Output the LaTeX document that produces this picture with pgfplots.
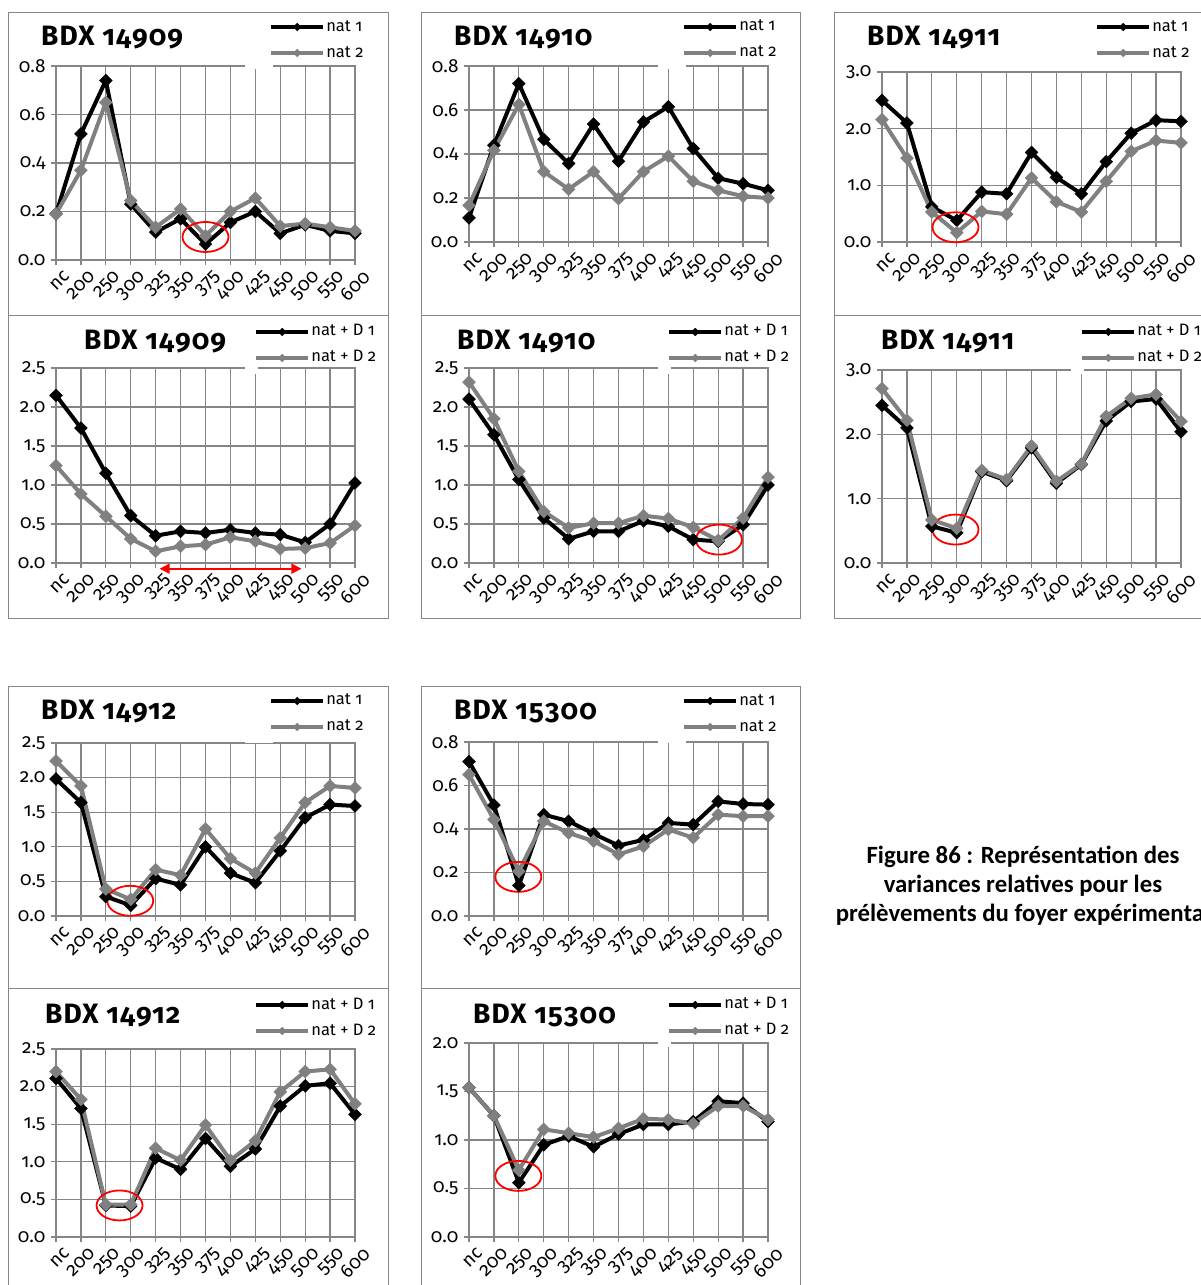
\documentclass[border=0pt]{standalone}
\usepackage{fontspec}
\setmainfont{Fira Sans}[Numbers=OldStyle]
\newfontfamily\capfont{Carlito}
\usepackage{pgfplots}
\usepackage{pgfplotstable}
\pgfplotsset{compat=1.18}
\usetikzlibrary{arrows.meta}
\definecolor{gridc}{RGB}{134,134,134}
\definecolor{ser2}{RGB}{128,128,128}
\definecolor{framec}{RGB}{134,134,134}
\newcommand\tickfont{\fontsize{19bp}{21bp}\selectfont}
\newcommand\legfont{\fontsize{16.5bp}{18bp}\selectfont}
\newcommand\titfont{\fontsize{28bp}{32bp}\selectfont\bfseries\addfontfeatures{LetterSpace=4}}

% columns: x, series 1 (black), series 2 (gray)
\pgfplotstableread{
x a b
0 0.19 0.19
1 0.52 0.37
2 0.74 0.65
3 0.23 0.245
4 0.115 0.135
5 0.17 0.21
6 0.065 0.10
7 0.155 0.20
8 0.20 0.255
9 0.11 0.14
10 0.145 0.15
11 0.12 0.135
12 0.11 0.12
}\tPone
\pgfplotstableread{
x a b
0 0.11 0.167
1 0.44 0.417
2 0.72 0.625
3 0.466 0.32
4 0.357 0.24
5 0.536 0.32
6 0.367 0.197
7 0.546 0.32
8 0.615 0.39
9 0.425 0.276
10 0.29 0.235
11 0.265 0.208
12 0.235 0.20
}\tPtwo
\pgfplotstableread{
x a b
0 2.5 2.16
1 2.1 1.48
2 0.62 0.53
3 0.38 0.165
4 0.88 0.54
5 0.85 0.49
6 1.58 1.13
7 1.14 0.71
8 0.85 0.53
9 1.42 1.07
10 1.92 1.6
11 2.15 1.79
12 2.13 1.75
}\tPthree
\pgfplotstableread{
x a b
0 2.15 1.25
1 1.73 0.885
2 1.15 0.60
3 0.607 0.31
4 0.35 0.15
5 0.406 0.214
6 0.385 0.235
7 0.427 0.33
8 0.385 0.278
9 0.363 0.18
10 0.265 0.19
11 0.50 0.256
12 1.026 0.48
}\tPfour
\pgfplotstableread{
x a b
0 2.1 2.32
1 1.645 1.85
2 1.07 1.175
3 0.577 0.66
4 0.31 0.45
5 0.406 0.51
6 0.406 0.51
7 0.54 0.607
8 0.47 0.57
9 0.30 0.457
10 0.278 0.29
11 0.49 0.577
12 1.0 1.1
}\tPfive
\pgfplotstableread{
x a b
0 2.45 2.71
1 2.1 2.22
2 0.57 0.67
3 0.47 0.54
4 1.42 1.44
5 1.28 1.30
6 1.79 1.82
7 1.24 1.27
8 1.53 1.54
9 2.21 2.28
10 2.51 2.56
11 2.55 2.62
12 2.04 2.2
}\tPsix
\pgfplotstableread{
x a b
0 1.98 2.24
1 1.64 1.88
2 0.28 0.39
3 0.154 0.24
4 0.54 0.67
5 0.45 0.59
6 1.0 1.26
7 0.62 0.83
8 0.48 0.62
9 0.94 1.13
10 1.42 1.64
11 1.61 1.88
12 1.59 1.85
}\tPseven
\pgfplotstableread{
x a b
0 0.71 0.65
1 0.51 0.443
2 0.14 0.206
3 0.466 0.436
4 0.436 0.382
5 0.378 0.344
6 0.324 0.283
7 0.35 0.32
8 0.428 0.398
9 0.42 0.36
10 0.527 0.466
11 0.515 0.459
12 0.512 0.459
}\tPeight
\pgfplotstableread{
x a b
0 2.11 2.2
1 1.71 1.83
2 0.42 0.43
3 0.41 0.43
4 1.05 1.18
5 0.9 1.02
6 1.31 1.49
7 0.94 1.02
8 1.17 1.28
9 1.74 1.93
10 2.01 2.2
11 2.045 2.23
12 1.63 1.77
}\tPnine
\pgfplotstableread{
x a b
0 1.54 1.54
1 1.25 1.25
2 0.56 0.69
3 0.95 1.11
4 1.04 1.07
5 0.93 1.03
6 1.06 1.12
7 1.16 1.22
8 1.16 1.21
9 1.19 1.17
10 1.4 1.35
11 1.38 1.35
12 1.19 1.21
}\tPten

\tikzset{circ/.style={draw=red, line width=1.8bp}}
\pgfplotsset{
 panel/.style={
   scale only axis, width=299bp, anchor=south west,
   xmin=0, xmax=12, xtick={0,...,12},
   xticklabels={nc,200,250,300,325,350,375,400,425,450,500,550,600},
   ymin=0,
   grid=major,
   major grid style={draw=gridc, line width=1.2bp},
   axis line style={draw=gridc, line width=1.2bp},
   tick style={draw=gridc, line width=1.2bp},
   tick align=outside, major tick length=5bp,
   xtick pos=left, ytick pos=left,
   /pgf/number format/fixed, /pgf/number format/fixed zerofill,
   /pgf/number format/precision=1, /pgf/number format/assume math mode=true,
   yticklabel style={font=\tickfont, xshift=-2bp},
   xticklabel style={font=\tickfont, rotate=45, anchor=north east, inner sep=1bp, yshift=-7bp, xshift=3bp},
   clip=false,
   legend cell align=left,
   legend style={draw=none, fill=white, font=\legfont, anchor=west, inner xsep=2bp, inner ysep=0bp, row sep=10bp, nodes={inner sep=1bp, text height=11bp, text depth=3bp}},
 },
 legpad/.style={
   legend image code/.code={\fill[white, overlay] (-#1,-14bp) rectangle (0bp,14bp);
     \draw[##1, mark repeat=2, mark phase=2, every mark/.append style={scale=0.6}] plot coordinates {(0bp,0bp)(26bp,0bp)(52bp,0bp)};}},
 s1/.style={black, line width=4bp, mark=square*, mark size=4.6bp, mark options={rotate=45, line width=0.3bp, solid}},
 s2/.style={ser2, line width=4bp, mark=square*, mark size=4.6bp, mark options={rotate=45, line width=0.3bp, solid}},
}

\begin{document}
\begin{tikzpicture}
\useasboundingbox (0,0) rectangle (1201bp,-1285bp);

% Panel 1
\begin{axis}[panel, legpad=24bp, at={(56bp,-260bp)}, height=194bp, ymax=0.8, ytick={0,0.2,0.4,0.6,0.8},
  legend style={at={(axis description cs:0.706,1.134)}}]
\addplot[s1] table[x=x,y=a]{\tPone};
\addplot[s2] table[x=x,y=b]{\tPone};
\draw[circ] (axis cs:6,0.095) ellipse [x radius=23bp, y radius=15bp];
\legend{nat 1, nat 2}
\end{axis}
% Panel 2
\begin{axis}[panel, legpad=24bp, at={(469bp,-242bp)}, height=176bp, ymax=0.8, ytick={0,0.2,0.4,0.6,0.8},
  legend style={at={(axis description cs:0.706,1.148)}}]
\addplot[s1] table[x=x,y=a]{\tPtwo};
\addplot[s2] table[x=x,y=b]{\tPtwo};
\legend{nat 1, nat 2}
\end{axis}
% Panel 3
\begin{axis}[panel, legpad=24bp, at={(882bp,-242bp)}, height=170bp, ymax=3, ytick={0,1,2,3},
  legend style={at={(axis description cs:0.706,1.188)}}]
\addplot[s1] table[x=x,y=a]{\tPthree};
\addplot[s2] table[x=x,y=b]{\tPthree};
\draw[circ] (axis cs:2.95,0.26) ellipse [x radius=23bp, y radius=15bp];
\legend{nat 1, nat 2}
\end{axis}
% Panel 4
\begin{axis}[panel, legpad=9bp, at={(56bp,-563bp)}, height=195bp, ymax=2.5, ytick={0,0.5,1,1.5,2,2.5},
  legend style={at={(axis description cs:0.656,1.118)}}]
\addplot[s1] table[x=x,y=a]{\tPfour};
\addplot[s2] table[x=x,y=b]{\tPfour};
\draw[red, line width=1.6bp, {Triangle[length=10bp,width=10bp]}-{Triangle[length=10bp,width=10bp]}] (axis cs:4.16,-0.073) -- (axis cs:9.85,-0.073);
\legend{nat + D 1, nat + D 2}
\end{axis}
% Panel 5
\begin{axis}[panel, legpad=9bp, at={(469bp,-563bp)}, height=195bp, ymax=2.5, ytick={0,0.5,1,1.5,2,2.5},
  legend style={at={(axis description cs:0.656,1.118)}}]
\addplot[s1] table[x=x,y=a]{\tPfive};
\addplot[s2] table[x=x,y=b]{\tPfive};
\draw[circ] (axis cs:10.03,0.30) ellipse [x radius=23bp, y radius=15bp];
\legend{nat + D 1, nat + D 2}
\end{axis}
% Panel 6
\begin{axis}[panel, legpad=9bp, at={(882bp,-563bp)}, height=193bp, ymax=3, ytick={0,1,2,3},
  legend style={at={(axis description cs:0.656,1.130)}}]
\addplot[s1] table[x=x,y=a]{\tPsix};
\addplot[s2] table[x=x,y=b]{\tPsix};
\draw[circ] (axis cs:2.95,0.52) ellipse [x radius=23bp, y radius=15bp];
\legend{nat + D 1, nat + D 2}
\end{axis}
% Panel 7
\begin{axis}[panel, legpad=24bp, at={(56bp,-916bp)}, height=173bp, ymax=2.5, ytick={0,0.5,1,1.5,2,2.5},
  legend style={at={(axis description cs:0.706,1.168)}}]
\addplot[s1] table[x=x,y=a]{\tPseven};
\addplot[s2] table[x=x,y=b]{\tPseven};
\draw[circ] (axis cs:2.98,0.22) ellipse [x radius=23bp, y radius=15bp];
\legend{nat 1, nat 2}
\end{axis}
% Panel 8
\begin{axis}[panel, legpad=24bp, at={(469bp,-916bp)}, height=174bp, ymax=0.8, ytick={0,0.2,0.4,0.6,0.8},
  legend style={at={(axis description cs:0.706,1.161)}}]
\addplot[s1] table[x=x,y=a]{\tPeight};
\addplot[s2] table[x=x,y=b]{\tPeight};
\draw[circ] (axis cs:1.98,0.18) ellipse [x radius=23bp, y radius=15bp];
\legend{nat 1, nat 2}
\end{axis}
% Panel 9
\begin{axis}[panel, legpad=9bp, at={(56bp,-1237bp)}, height=188bp, ymax=2.5, ytick={0,0.5,1,1.5,2,2.5},
  legend style={at={(axis description cs:0.656,1.165)}}]
\addplot[s1] table[x=x,y=a]{\tPnine};
\addplot[s2] table[x=x,y=b]{\tPnine};
\draw[circ] (axis cs:2.55,0.42) ellipse [x radius=23bp, y radius=15bp];
\legend{nat + D 1, nat + D 2}
\end{axis}
% Panel 10
\begin{axis}[panel, legpad=9bp, at={(469bp,-1237bp)}, height=194bp, ymax=2, ytick={0,0.5,1,1.5,2},
  legend style={at={(axis description cs:0.656,1.129)}}]
\addplot[s1] table[x=x,y=a]{\tPten};
\addplot[s2] table[x=x,y=b]{\tPten};
\draw[circ] (axis cs:1.98,0.63) ellipse [x radius=23bp, y radius=15bp];
\legend{nat + D 1, nat + D 2}
\end{axis}

% frames (drawn last so that legend backgrounds do not hide them)
\begin{scope}[draw=framec, line width=1bp]
\draw (8bp,-12bp) rectangle (388bp,-315bp);
\draw (421bp,-12bp) rectangle (800bp,-315bp);
\draw (834bp,-12bp) rectangle (1215bp,-315bp);
\draw (8bp,-315bp) rectangle (388bp,-618bp);
\draw (421bp,-315bp) rectangle (800bp,-618bp);
\draw (834bp,-315bp) rectangle (1215bp,-618bp);
\draw (8bp,-686bp) rectangle (388bp,-988bp);
\draw (421bp,-686bp) rectangle (800bp,-988bp);
\draw (8bp,-988bp) rectangle (388bp,-1300bp);
\draw (421bp,-988bp) rectangle (800bp,-1300bp);
\end{scope}

% titles
\begin{scope}[every node/.style={anchor=base west, font=\titfont, inner sep=0pt}]
\node at (41bp,-45bp) {BDX 14909};
\node at (454bp,-45bp) {BDX 14910};
\node at (867bp,-45bp) {BDX 14911};
\node at (84bp,-349bp) {BDX 14909};
\node at (457bp,-349bp) {BDX 14910};
\node at (881bp,-349bp) {BDX 14911};
\node at (41bp,-719bp) {BDX 14912};
\node at (454bp,-719bp) {BDX 15300};
\node at (45bp,-1023bp) {BDX 14912};
\node at (473bp,-1023bp) {BDX 15300};
\end{scope}

% caption
\begin{scope}[every node/.style={anchor=base, font=\capfont\bfseries\fontsize{24.8bp}{29bp}\selectfont, inner sep=0pt}]
\node at (1023bp,-863bp) {Figure 86 : Représentation des};
\node at (1023bp,-892bp) {variances relatives pour les};
\node at (1023bp,-921bp) {prélèvements du foyer expérimental};
\end{scope}
\end{tikzpicture}
\end{document}
